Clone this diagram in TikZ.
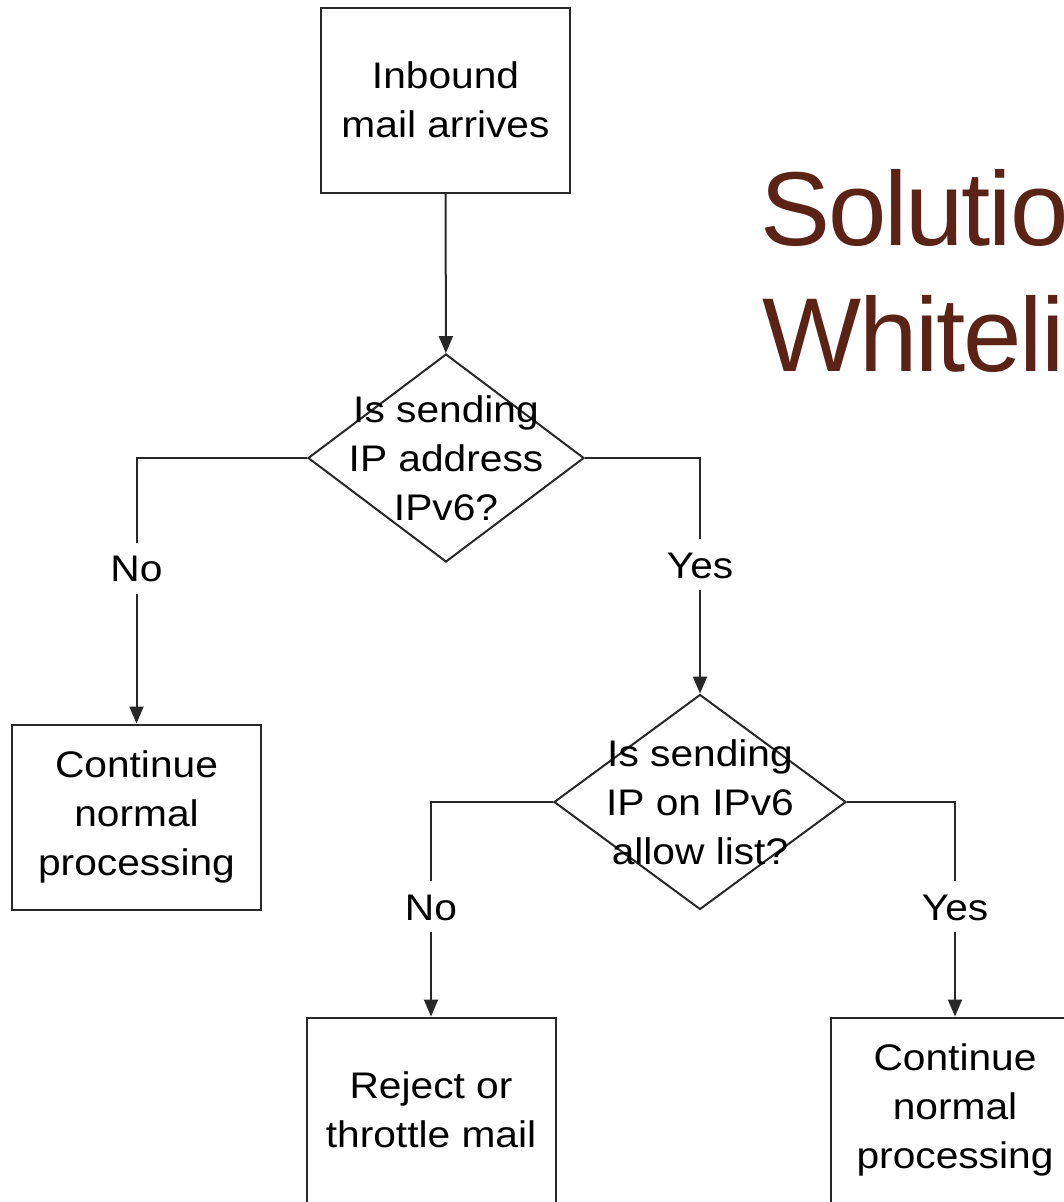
\documentclass[tikz,border=0pt]{standalone}
\usepackage{fontspec}
\setmainfont{Liberation Sans}
\newfontfamily\chartfamily[FakeStretch=1.1]{Liberation Sans}
\newfontfamily\titlefamily[LetterSpace=-2]{Liberation Sans}
\usetikzlibrary{arrows.meta,shapes.geometric}
\definecolor{titlebrown}{RGB}{90,35,22}
\definecolor{linegray}{RGB}{40,40,40}
\newcommand{\chartfont}{\chartfamily\fontsize{37}{49}\selectfont}

\begin{document}
\begin{tikzpicture}[x=1pt,y=-1pt,>={Triangle[length=17pt,width=14pt]},
                    line width=2pt,draw=linegray,
                    box/.style={rectangle,draw=linegray,minimum width=249pt,minimum height=185pt,
                                inner sep=0pt,align=center,font=\chartfont},
                    decision/.style={diamond,draw=linegray,inner sep=0pt},
                    question/.style={align=center,font=\chartfont,inner sep=0pt},
                    answer/.style={fill=white,font=\chartfont,text height=27pt,text depth=0pt,
                                   inner xsep=2pt,inner ysep=12pt},
                    title/.style={anchor=base west,text=titlebrown,inner sep=0pt,
                                  font=\titlefamily\fontsize{105}{126}\selectfont}]
  \useasboundingbox (0,0) rectangle (1064,1202);
  \clip (0,0) rectangle (1064,1202);

  % heading, cut by the right edge
  \node[title] (title1) at (759,245) {Solutio};
  \node[title] (title2) at (761,371) {Whiteli};

  % boxes and decisions
  \node[box] (start) at (445.5,100) {Inbound\\mail arrives};
  \node[decision,minimum width=276pt,minimum height=208pt] (q1) at (446,458) {};
  \node[question] (q1text) at (q1) {Is sending\\IP address\\IPv6?};
  \node[box] (cont1) at (136.5,817) {Continue\\normal\\processing};
  \node[decision,minimum width=292pt,minimum height=215pt] (q2) at (700,802) {};
  \node[question] (q2text) at (q2) {Is sending\\IP on IPv6\\allow list?};
  \node[box] (reject) at (431,1110) {Reject or\\throttle mail};
  \node[box] (cont2) at (955,1110) {Continue\\normal\\processing};

  % connectors
  \draw[->] (start) -- (q1);
  \draw[->] (q1.west) -| node[answer,pos=0.708] (no1) {No} (cont1.north);
  \draw[->] (q1.east) -| node[answer,pos=0.727] (yes1) {Yes} (q2.north);
  \draw[->] (q2.west) -| node[answer,pos=0.744] (no2) {No} (reject.north);
  \draw[->] (q2.east) -| node[answer,pos=0.744] (yes2) {Yes} (cont2.north);
\end{tikzpicture}
\end{document}
